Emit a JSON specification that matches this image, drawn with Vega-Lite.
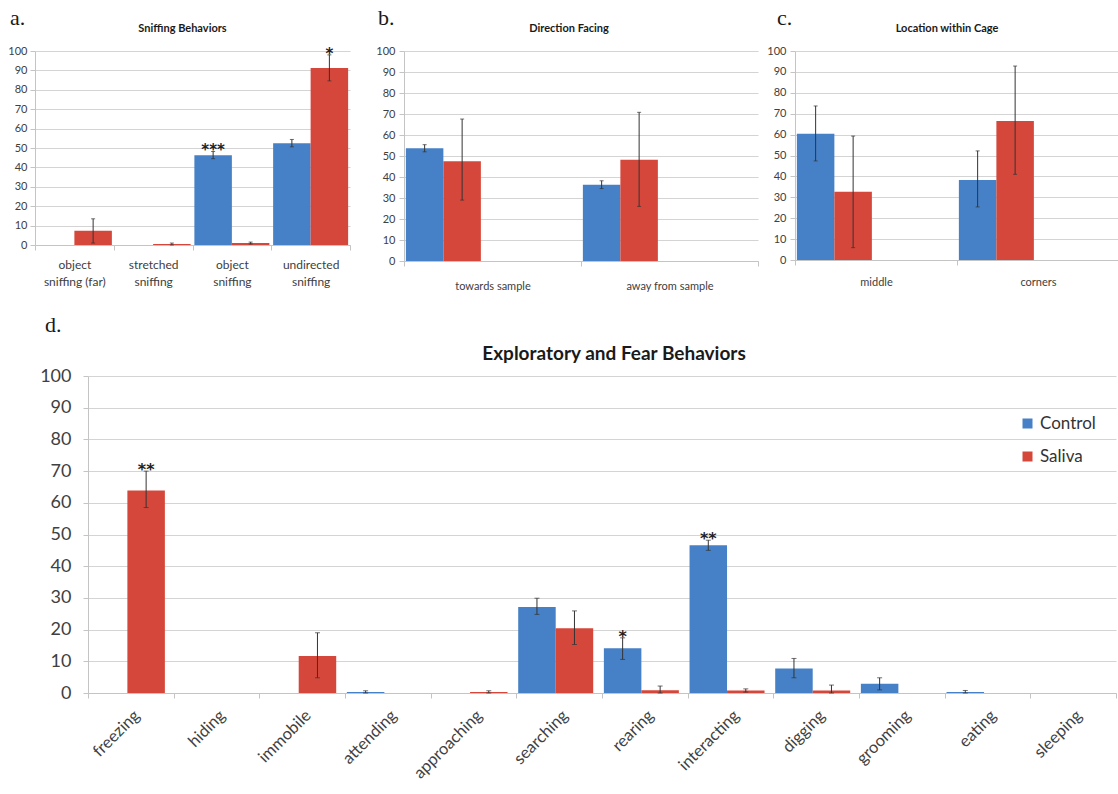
{
  "$schema": "https://vega.github.io/schema/vega-lite/v6.json",
  "padding": {"left": 0, "top": 7, "right": 0, "bottom": 0},
  "background": "white",
  "config": {
    "font": "Lato",
    "view": {"stroke": null},
    "axis": {"labelColor": "#404040", "labelFont": "Lato", "domainColor": "#c4c4c4", "tickColor": "#c4c4c4", "gridColor": "#d4d4d4", "gridWidth": 1.2},
    "axisX": {"grid": false, "tickBand": "extent", "labelAngle": 0, "tickSize": 5},
    "axisY": {"grid": true, "tickSize": 5, "tickCount": 10, "labelOverlap": false},
    "title": {"font": "Lato", "fontWeight": "bold", "color": "#1a1a1a"}
  },
  "datasets": {
    "sniffing": [
      {"behavior": "object sniffing (far)", "group": "Control", "mean": 0, "lo": null, "hi": null, "sig": null},
      {"behavior": "object sniffing (far)", "group": "Saliva", "mean": 7.3, "lo": 1, "hi": 13.5, "sig": null},
      {"behavior": "stretched sniffing", "group": "Control", "mean": 0, "lo": null, "hi": null, "sig": null},
      {"behavior": "stretched sniffing", "group": "Saliva", "mean": 0.5, "lo": 0, "hi": 1, "sig": null},
      {"behavior": "object sniffing", "group": "Control", "mean": 46.3, "lo": 44.5, "hi": 48.2, "sig": "***"},
      {"behavior": "object sniffing", "group": "Saliva", "mean": 1, "lo": 0.5, "hi": 1.5, "sig": null},
      {"behavior": "undirected sniffing", "group": "Control", "mean": 52.5, "lo": 50.6, "hi": 54.4, "sig": null},
      {"behavior": "undirected sniffing", "group": "Saliva", "mean": 91.2, "lo": 84.6, "hi": 98, "sig": "*"}
    ],
    "direction": [
      {"behavior": "towards sample", "group": "Control", "mean": 53.7, "lo": 52, "hi": 55.4},
      {"behavior": "towards sample", "group": "Saliva", "mean": 47.5, "lo": 29, "hi": 67.6},
      {"behavior": "away from sample", "group": "Control", "mean": 36.3, "lo": 34.5, "hi": 38.2},
      {"behavior": "away from sample", "group": "Saliva", "mean": 48.2, "lo": 26, "hi": 70.8}
    ],
    "location": [
      {"behavior": "middle", "group": "Control", "mean": 60.4, "lo": 47.4, "hi": 73.7},
      {"behavior": "middle", "group": "Saliva", "mean": 32.7, "lo": 5.9, "hi": 59.3},
      {"behavior": "corners", "group": "Control", "mean": 38.3, "lo": 25.4, "hi": 52.2},
      {"behavior": "corners", "group": "Saliva", "mean": 66.5, "lo": 41, "hi": 92.8}
    ],
    "behaviors": [
      {"behavior": "freezing", "group": "Control", "mean": 0, "lo": null, "hi": null, "sig": null},
      {"behavior": "freezing", "group": "Saliva", "mean": 63.9, "lo": 58.5, "hi": 70, "sig": "**"},
      {"behavior": "hiding", "group": "Control", "mean": 0, "lo": null, "hi": null, "sig": null},
      {"behavior": "hiding", "group": "Saliva", "mean": 0, "lo": null, "hi": null, "sig": null},
      {"behavior": "immobile", "group": "Control", "mean": 0, "lo": null, "hi": null, "sig": null},
      {"behavior": "immobile", "group": "Saliva", "mean": 11.7, "lo": 4.8, "hi": 19, "sig": null},
      {"behavior": "attending", "group": "Control", "mean": 0.3, "lo": 0, "hi": 0.7, "sig": null},
      {"behavior": "attending", "group": "Saliva", "mean": 0, "lo": null, "hi": null, "sig": null},
      {"behavior": "approaching", "group": "Control", "mean": 0, "lo": null, "hi": null, "sig": null},
      {"behavior": "approaching", "group": "Saliva", "mean": 0.3, "lo": 0, "hi": 0.7, "sig": null},
      {"behavior": "searching", "group": "Control", "mean": 27.1, "lo": 24.8, "hi": 29.9, "sig": null},
      {"behavior": "searching", "group": "Saliva", "mean": 20.4, "lo": 15.3, "hi": 25.9, "sig": null},
      {"behavior": "rearing", "group": "Control", "mean": 14.1, "lo": 10.6, "hi": 17.4, "sig": "*"},
      {"behavior": "rearing", "group": "Saliva", "mean": 0.9, "lo": 0, "hi": 2.2, "sig": null},
      {"behavior": "interacting", "group": "Control", "mean": 46.6, "lo": 45, "hi": 48.2, "sig": "**"},
      {"behavior": "interacting", "group": "Saliva", "mean": 0.8, "lo": 0.3, "hi": 1.3, "sig": null},
      {"behavior": "digging", "group": "Control", "mean": 7.7, "lo": 4.8, "hi": 10.9, "sig": null},
      {"behavior": "digging", "group": "Saliva", "mean": 0.8, "lo": 0, "hi": 2.5, "sig": null},
      {"behavior": "grooming", "group": "Control", "mean": 2.9, "lo": 1, "hi": 4.8, "sig": null},
      {"behavior": "grooming", "group": "Saliva", "mean": 0, "lo": null, "hi": null, "sig": null},
      {"behavior": "eating", "group": "Control", "mean": 0.3, "lo": 0, "hi": 0.8, "sig": null},
      {"behavior": "eating", "group": "Saliva", "mean": 0, "lo": null, "hi": null, "sig": null},
      {"behavior": "sleeping", "group": "Control", "mean": 0, "lo": null, "hi": null, "sig": null},
      {"behavior": "sleeping", "group": "Saliva", "mean": 0, "lo": null, "hi": null, "sig": null}
    ]
  },
  "columns": 1,
  "align": "none",
  "spacing": 23,
  "resolve": {"scale": {"color": "independent"}},
  "concat": [
    {
      "spacing": 0,
      "hconcat": [
        {
          "title": {"text": "a.", "anchor": "start", "dx": 10, "font": "Liberation Serif", "fontSize": 22, "fontWeight": "normal", "offset": -7},
          "vconcat": [
            {
              "width": 315,
              "height": 194,
              "title": {"text": "Sniffing Behaviors", "fontSize": 11, "frame": "group", "dx": -10, "offset": 11},
              "data": {"name": "sniffing"},
              "encoding": {
                "x": {"field": "behavior", "type": "nominal", "sort": null, "scale": {"paddingInner": 0, "paddingOuter": 0},
                  "axis": {"title": null, "labelFontSize": 12, "labelPadding": 9, "labelLineHeight": 17, "labelExpr": "[slice(datum.label, 0, indexof(datum.label, ' ')), slice(datum.label, indexof(datum.label, ' ') + 1)]"}},
                "xOffset": {"field": "group", "sort": ["Control", "Saliva"], "scale": {"paddingInner": 0, "paddingOuter": 0.05}}
              },
              "layer": [
                {
                  "mark": {"type": "bar"},
                  "encoding": {
                    "y": {"field": "mean", "type": "quantitative", "scale": {"domain": [0, 100], "nice": false}, "axis": {"title": null, "labelFontSize": 11, "labelPadding": 3, "minExtent": 35}},
                    "color": {"field": "group", "type": "nominal", "scale": {"domain": ["Control", "Saliva"], "range": ["#4681c7", "#d6473b"]}, "legend": null}
                  }
                },
                {
                  "transform": [{"filter": "datum.hi != null"}],
                  "mark": {"type": "rule", "color": "#333333", "strokeWidth": 1},
                  "encoding": {"y": {"field": "lo", "type": "quantitative"}, "y2": {"field": "hi"}}
                },
                {
                  "transform": [{"filter": "datum.hi != null"}],
                  "mark": {"type": "tick", "color": "#333333", "thickness": 1, "size": 4},
                  "encoding": {"y": {"field": "hi", "type": "quantitative"}}
                },
                {
                  "transform": [{"filter": "datum.hi != null"}],
                  "mark": {"type": "tick", "color": "#333333", "thickness": 1, "size": 4},
                  "encoding": {"y": {"field": "lo", "type": "quantitative"}}
                },
                {
                  "transform": [{"filter": "datum.sig != null"}],
                  "mark": {"type": "text", "font": "DejaVu Sans", "fontSize": 15, "fontWeight": "bold", "baseline": "alphabetic", "dy": 4, "color": "#222222"},
                  "encoding": {"y": {"field": "hi", "type": "quantitative"}, "text": {"field": "sig"}}
                }
              ]
            }
          ]
        },
        {
          "title": {"text": "b.", "anchor": "start", "dx": 27, "font": "Liberation Serif", "fontSize": 22, "fontWeight": "normal", "offset": -7},
          "vconcat": [
            {
              "width": 354,
              "height": 210,
              "title": {"text": "Direction Facing", "fontSize": 11, "frame": "group", "dx": -12, "offset": 11},
              "data": {"name": "direction"},
              "encoding": {
                "x": {"field": "behavior", "type": "nominal", "sort": null, "scale": {"paddingInner": 0, "paddingOuter": 0},
                  "axis": {"title": null, "labelFontSize": 11, "labelPadding": 14}},
                "xOffset": {"field": "group", "sort": ["Control", "Saliva"], "scale": {"paddingInner": 0, "paddingOuter": 1}}
              },
              "layer": [
                {
                  "mark": {"type": "bar"},
                  "encoding": {
                    "y": {"field": "mean", "type": "quantitative", "scale": {"domain": [0, 100], "nice": false}, "axis": {"title": null, "labelFontSize": 11, "labelPadding": 4, "minExtent": 53}},
                    "color": {"field": "group", "type": "nominal", "scale": {"domain": ["Control", "Saliva"], "range": ["#4681c7", "#d6473b"]}, "legend": null}
                  }
                },
                {
                  "mark": {"type": "rule", "color": "#333333", "strokeWidth": 1},
                  "encoding": {"y": {"field": "lo", "type": "quantitative"}, "y2": {"field": "hi"}}
                },
                {
                  "mark": {"type": "tick", "color": "#333333", "thickness": 1, "size": 4},
                  "encoding": {"y": {"field": "hi", "type": "quantitative"}}
                },
                {
                  "mark": {"type": "tick", "color": "#333333", "thickness": 1, "size": 4},
                  "encoding": {"y": {"field": "lo", "type": "quantitative"}}
                }
              ]
            }
          ]
        },
        {
          "title": {"text": "c.", "anchor": "start", "dx": 18, "font": "Liberation Serif", "fontSize": 22, "fontWeight": "normal", "offset": -7},
          "vconcat": [
            {
              "width": 324,
              "height": 209,
              "title": {"text": "Location within Cage", "fontSize": 11, "frame": "group", "dx": -10, "offset": 11},
              "data": {"name": "location"},
              "encoding": {
                "x": {"field": "behavior", "type": "nominal", "sort": null, "scale": {"paddingInner": 0, "paddingOuter": 0},
                  "axis": {"title": null, "labelFontSize": 11, "labelPadding": 11}},
                "xOffset": {"field": "group", "sort": ["Control", "Saliva"], "scale": {"paddingInner": 0, "paddingOuter": 1}}
              },
              "layer": [
                {
                  "mark": {"type": "bar"},
                  "encoding": {
                    "y": {"field": "mean", "type": "quantitative", "scale": {"domain": [0, 100], "nice": false}, "axis": {"title": null, "labelFontSize": 11, "labelPadding": 4, "minExtent": 36}},
                    "color": {"field": "group", "type": "nominal", "scale": {"domain": ["Control", "Saliva"], "range": ["#4681c7", "#d6473b"]}, "legend": null}
                  }
                },
                {
                  "mark": {"type": "rule", "color": "#333333", "strokeWidth": 1},
                  "encoding": {"y": {"field": "lo", "type": "quantitative"}, "y2": {"field": "hi"}}
                },
                {
                  "mark": {"type": "tick", "color": "#333333", "thickness": 1, "size": 4},
                  "encoding": {"y": {"field": "hi", "type": "quantitative"}}
                },
                {
                  "mark": {"type": "tick", "color": "#333333", "thickness": 1, "size": 4},
                  "encoding": {"y": {"field": "lo", "type": "quantitative"}}
                }
              ]
            }
          ]
        }
      ]
    },
    {
      "title": {"text": "d.", "anchor": "start", "dx": 10, "font": "Liberation Serif", "fontSize": 22, "fontWeight": "normal", "offset": 8},
      "spacing": 0,
      "hconcat": [
        {
          "width": 1,
          "height": 1,
          "data": {"values": [{"pad": 0}]},
          "mark": {"type": "point", "opacity": 0, "size": 1},
          "encoding": {}
        },
        {
          "width": 1028,
          "height": 317,
          "title": {"text": "Exploratory and Fear Behaviors", "fontSize": 19, "frame": "group", "dx": 12, "offset": 3},
          "data": {"name": "behaviors"},
          "encoding": {
            "x": {"field": "behavior", "type": "nominal", "sort": null, "scale": {"paddingInner": 0, "paddingOuter": 0},
              "axis": {"title": null, "labelFontSize": 16.5, "labelAngle": -45, "labelAlign": "right", "labelBaseline": "top", "labelPadding": 9}},
            "xOffset": {"field": "group", "sort": ["Control", "Saliva"], "scale": {"paddingInner": 0, "paddingOuter": 0}}
          },
          "layer": [
            {
              "mark": {"type": "bar"},
              "encoding": {
                "y": {"field": "mean", "type": "quantitative", "scale": {"domain": [0, 100], "nice": false}, "axis": {"title": null, "labelFontSize": 18, "labelPadding": 12, "minExtent": 52}},
                "color": {"field": "group", "type": "nominal", "scale": {"domain": ["Control", "Saliva"], "range": ["#4681c7", "#d6473b"]},
                  "legend": {"title": null, "orient": "none", "legendX": 984, "legendY": 39, "symbolType": "square", "symbolSize": 100, "symbolStrokeWidth": 0, "labelFontSize": 17, "labelColor": "#333333", "rowPadding": 15, "labelOffset": 4}}
              }
            },
            {
              "transform": [{"filter": "datum.hi != null"}],
              "mark": {"type": "rule", "color": "#333333", "strokeWidth": 1},
              "encoding": {"y": {"field": "lo", "type": "quantitative"}, "y2": {"field": "hi"}}
            },
            {
              "transform": [{"filter": "datum.hi != null"}],
              "mark": {"type": "tick", "color": "#333333", "thickness": 1, "size": 5},
              "encoding": {"y": {"field": "hi", "type": "quantitative"}}
            },
            {
              "transform": [{"filter": "datum.hi != null"}],
              "mark": {"type": "tick", "color": "#333333", "thickness": 1, "size": 5},
              "encoding": {"y": {"field": "lo", "type": "quantitative"}}
            },
            {
              "transform": [{"filter": "datum.sig != null"}],
              "mark": {"type": "text", "font": "DejaVu Sans", "fontSize": 16, "fontWeight": "bold", "baseline": "alphabetic", "dy": 4, "color": "#222222"},
              "encoding": {"y": {"field": "hi", "type": "quantitative"}, "text": {"field": "sig"}}
            }
          ]
        }
      ]
    }
  ]
}
